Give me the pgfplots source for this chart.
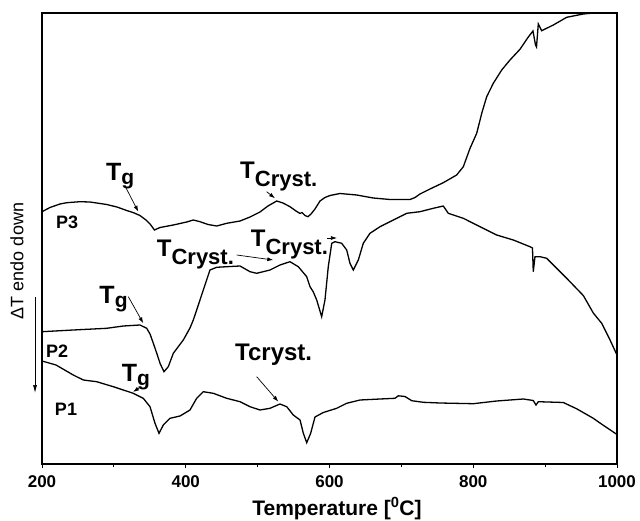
\documentclass[border=0pt]{standalone}
\usepackage{pgfplots}
\pgfplotsset{compat=1.18}
\usepackage{fontspec}
\setmainfont{Liberation Sans}
\usetikzlibrary{arrows.meta}
\begin{document}
\begin{tikzpicture}
\useasboundingbox (-42pt,-56pt) rectangle (598pt,464pt);
\begin{axis}[
  at={(0pt,0pt)}, anchor=south west,
  scale only axis, width=575pt, height=451pt,
  xmin=200, xmax=1000, ymin=0, ymax=451,
  ytick=\empty,
  xtick={200,400,600,800,1000},
  minor x tick num=1,
  xtick pos=lower,
  tick align=outside,
  major tick length=4pt, minor tick length=3pt,
  tick style={black, line width=0.9pt},
  axis line style={line width=1.1pt},
  clip=false,
  /pgf/number format/assume math mode=true,
  /pgf/number format/1000 sep={},
  xticklabel style={font=\fontsize{17}{17}\selectfont\bfseries, yshift=-4pt},
  xlabel={Temperature [\textsuperscript{0}C]},
  xlabel style={font=\fontsize{21}{21}\selectfont\bfseries, at={(axis description cs:0.513,0)}, anchor=north, yshift=-30pt},
]
% P3
\addplot[black, line width=1.3pt] coordinates {
(200,252.3) (211.1,256.5) (225.0,260) (234.4,261.3) (252.9,262.3) (266.8,262)
(290.0,259.5) (304.3,257) (317.8,253.5) (326.6,251.5) (336.3,248.5) (344.7,244)
(350.3,240) (356.5,234) (364.2,236.5) (382.7,239) (401.3,242) (410.5,244)
(419.8,242.3) (431.0,239.5) (443.1,238) (457.0,240.7) (475.5,243) (489.4,247)
(503.3,252) (514.4,258) (526.5,263) (535.3,261) (545.0,257.3) (553.4,253)
(559.0,250.5) (561.7,251.5) (565.9,248.5) (570.1,247.3) (574.3,250) (579.8,255)
(586.8,263) (593.7,266.5) (600.7,268.5) (614.6,270.5) (637.8,269) (660.9,266)
(684.2,264.5) (712.0,264.5) (719.0,266.5) (725.9,270) (739.8,275) (758.3,281.3)
(776.9,289) (786.2,297.3) (795.5,315.7) (804.8,330.7) (811.8,350.7) (818.7,367.3)
(827.9,380.7) (839.6,394) (851.1,404) (865.0,414.7) (876.6,427) (883.1,433)
(886.6,419) (888.0,417) (890.5,440) (895.2,433.3) (911.4,439) (930.0,446.7)
(953.1,450) (971.7,451.3) (1000,451)
};
% P2
\addplot[black, line width=1.3pt] coordinates {
(200,132.3) (243.5,134) (290.0,135.7) (313.1,138) (336.3,139) (345.7,135.7)
(350.3,130) (354.9,120.7) (360.0,110) (364.2,100.7) (369.7,92.3) (375.7,97.3)
(382.7,110.7) (396.6,124) (405.9,136) (410.5,144) (415.2,154) (419.8,164)
(424.4,174) (433.7,194) (443.1,196.7) (457.0,197.3) (475.5,198) (489.4,192.3)
(498.7,190.7) (517.2,194) (531.1,199) (545.0,202.3) (556.6,197.3) (568.3,187.3)
(572.9,177.3) (577.5,172) (582.2,164) (589.1,147.3) (593.7,164) (598.3,197.3)
(603.1,220.7) (607.7,222.3) (617.0,220.7) (623.9,214) (628.5,200.7) (633.1,194)
(640.1,204) (647.0,220.7) (656.3,230.7) (670.3,237.3) (688.8,244) (707.4,250.7)
(725.9,252.3) (744.4,255.7) (758.3,258) (765.3,250.7) (786.2,245.7) (809.4,237.3)
(832.6,229) (855.7,224) (878.9,217.3) (882.4,216) (883.5,192.3) (885.9,207.3)
(892.9,207.3) (902.2,205.7) (916.1,195.7) (930.0,185.7) (953.1,168.5) (967.0,151)
(978.7,140.7) (990.3,124) (1000,109)
};
% P1
\addplot[black, line width=1.3pt] coordinates {
(200,103) (219.5,99) (243.5,89) (257.5,84) (276.1,82.3) (299.2,77.3)
(327.0,70.7) (340.9,65.7) (350.3,57.3) (357.2,40.7) (362.8,30.7) (368.8,39)
(378.1,45.7) (392.0,48) (405.9,54) (415.2,65.7) (424.4,72.3) (438.3,70.7)
(457.0,65.7) (475.5,62.3) (489.4,57.3) (503.3,54) (517.2,55.7) (531.1,60)
(540.5,57.3) (549.6,49) (559.0,44) (563.6,30.7) (568.3,21.3) (573.8,30.7)
(579.8,47) (591.4,51.5) (610.0,55.7) (623.9,60.7) (642.4,64) (670.3,65)
(691.1,65.7) (695.7,68.2) (705.0,67.5) (714.4,63.3) (730.5,61.7) (753.7,61)
(800.1,60.3) (832.6,63) (869.6,65) (883.5,63.5) (887.3,59) (890.5,62.3)
(925.3,61.5) (943.9,55.2) (967.0,45.7) (976.3,41) (1000,29.5)
};
% curve labels
\node[font=\fontsize{18}{18}\selectfont\bfseries] at (axis cs:234.8,242) {P3};
\node[font=\fontsize{18}{18}\selectfont\bfseries] at (axis cs:220.9,113) {P2};
\node[font=\fontsize{18}{18}\selectfont\bfseries] at (axis cs:233.4,55) {P1};
% annotations
\def\Tg{\fontsize{25}{25}\selectfont\bfseries T\raisebox{-4pt}{\fontsize{21}{21}\selectfont g}}
\def\TC{\fontsize{24}{24}\selectfont\bfseries T\raisebox{-8pt}{\fontsize{22}{22}\selectfont Cryst.}}
\node[anchor=base west, inner sep=0pt] at (axis cs:289.0,284) {\Tg};
\draw[-{Latex[length=6pt,width=4pt]}, line width=0.7pt] (axis cs:315.5,278) -- (axis cs:334.0,252.3);
\node[anchor=base west, inner sep=0pt] at (axis cs:475.5,286) {\TC};
\draw[-{Latex[length=6pt,width=4pt]}, line width=0.7pt] (axis cs:512.6,272.3) -- (axis cs:524.2,265.7);
\node[anchor=base west, inner sep=0pt] at (axis cs:359.6,208) {\TC};
\draw[-{Latex[length=6pt,width=4pt]}, line width=0.7pt] (axis cs:470.9,209) -- (axis cs:521.8,204);
\node[anchor=base west, inner sep=0pt] at (axis cs:490.4,217.3) {\TC};
\draw[-{Latex[length=6pt,width=4pt]}, line width=0.7pt] (axis cs:596.1,226) -- (axis cs:610.4,226);
\node[anchor=base west, inner sep=0pt] at (axis cs:279.7,160.7) {\Tg};
\draw[-{Latex[length=6pt,width=4pt]}, line width=0.7pt] (axis cs:320.1,167.3) -- (axis cs:340.9,140.7);
\node[anchor=base west, inner sep=0pt] at (axis cs:310.9,82.3) {\Tg};
\draw[-{Latex[length=6pt,width=4pt]}, line width=0.7pt] (axis cs:336.3,76.7) -- (axis cs:326.6,72);
\node[anchor=base west, inner sep=0pt, font=\fontsize{24}{24}\selectfont\bfseries] at (axis cs:468.5,103.3) {Tcryst.};
\draw[-{Latex[length=6pt,width=4pt]}, line width=0.7pt] (axis cs:498.7,87.3) -- (axis cs:528.8,62.3);
% y label and arrow
\node[rotate=90, font=\fontsize{18}{18}\selectfont] at (axis cs:165.2,203) {ΔT endo down};
\draw[-{Latex[length=8pt,width=4pt]}, line width=0.7pt] (axis cs:190.3,167) -- (axis cs:190.3,71);
\end{axis}
\end{tikzpicture}
\end{document}
